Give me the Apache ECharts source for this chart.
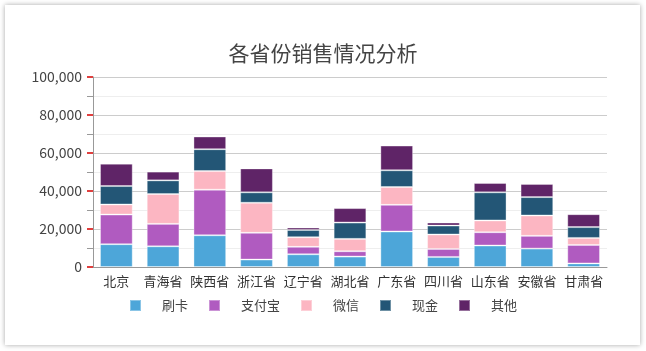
<!DOCTYPE html>
<html>
<head>
<meta charset="utf-8">
<script src="https://cdn.jsdelivr.net/npm/echarts@6/dist/echarts.min.js"></script>
<style>
html,body{margin:0;padding:0;background:#fff;width:646px;height:351px;overflow:hidden;}
#frame{position:absolute;left:5px;top:5px;width:635px;height:340px;background:#fff;box-shadow:0 0 5px rgba(0,0,0,0.35);}
#main{position:absolute;left:0;top:0;width:646px;height:351px;}
</style>
</head>
<body>
<div id="frame"></div>
<div id="main"></div>
<script>
var titleText = '各省份销售情况分析';
var categories = ['北京','青海省','陕西省','浙江省','辽宁省','湖北省','广东省','四川省','山东省','安徽省','甘肃省'];
var seriesNames = ['刷卡','支付宝','微信','现金','其他'];
var card   = [12000, 10900, 16700,  3900, 6700, 5500, 18700, 5300, 11300,  9700, 1900];
var alipay = [15600, 11800, 24000, 14100, 3900, 2800, 14000, 4200,  7000,  6700, 9700];
var wechat = [ 5300, 15700,  9800, 15800, 5100, 6500,  9400, 7600,  6200, 10700, 3700];
var cash   = [ 9700,  7200, 11500,  5500, 3800, 8600,  8800, 4700, 14800,  9700, 5700];
var other  = [11800,  4600,  6700, 12600, 1300, 7600, 13000, 1600,  4900,  6900, 6800];
var yMin = 0, yMax = 100000, yInterval = 20000;
var colors = ['#4da6d9','#b05bc0','#fcb6c2','#235676','#5f2467'];

var dataSets = [card, alipay, wechat, cash, other];
var chart = echarts.init(document.getElementById('main'), null, {renderer:'canvas'});
var font = '"Noto Sans CJK SC", "Noto Sans", sans-serif';
chart.setOption({
  backgroundColor: 'transparent',
  color: colors,
  textStyle: {fontFamily: font},
  title: {
    text: titleText, left: 'center', top: 38,
    textStyle: {fontSize: 21, fontWeight: 'normal', color: '#444', fontFamily: font}
  },
  legend: {
    data: seriesNames, left: 'center', top: 294,
    itemWidth: 11, itemHeight: 11, itemGap: 20, icon: 'rect',
    textStyle: {fontSize: 13, color: '#444', padding: [0,0,0,16], fontFamily: font}
  },
  grid: {left: 93, right: 39, top: 77, bottom: 84, containLabel: false},
  xAxis: {
    type: 'category', data: categories,
    axisLine: {lineStyle: {color: '#999'}},
    axisTick: {show: false},
    axisLabel: {fontSize: 13, color: '#333', margin: 8, interval: 0, fontFamily: font}
  },
  yAxis: {
    type: 'value', min: yMin, max: yMax, interval: yInterval,
    axisLine: {show: true, lineStyle: {color: '#999'}},
    axisTick: {show: true, length: 6, lineStyle: {color: '#e0403f', width: 2}},
    minorTick: {show: true, splitNumber: 2, length: 6, lineStyle: {color: '#999'}},
    splitLine: {lineStyle: {color: '#ccc'}},
    minorSplitLine: {show: true, lineStyle: {color: '#eee'}},
    axisLabel: {fontSize: 14, color: '#444', margin: 11, fontFamily: font}
  },
  series: seriesNames.map(function(n, i){
    return {
      name: n, type: 'bar', stack: 'total', barWidth: '70%',
      data: dataSets[i],
      itemStyle: {borderColor: 'rgba(255,255,255,0.35)', borderWidth: 1}
    };
  }),
  animation: false
});
</script>
</body>
</html>
